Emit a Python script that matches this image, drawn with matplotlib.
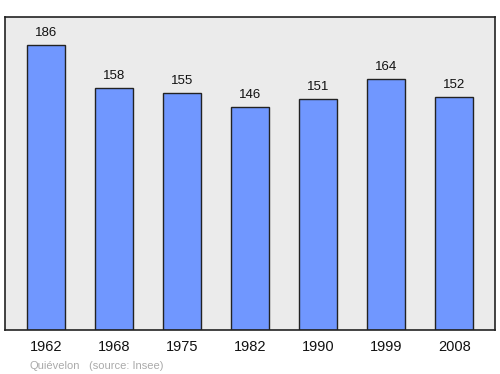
import matplotlib
matplotlib.use("Agg")
import matplotlib.pyplot as plt

years = ["1962", "1968", "1975", "1982", "1990", "1999", "2008"]
population = [186, 158, 155, 146, 151, 164, 152]

plt.rcParams['font.family'] = ['Liberation Sans', 'DejaVu Sans']

fig = plt.figure(figsize=(5, 3.74), dpi=100)
ax = fig.add_axes([0.01, 0.1176, 0.98, 0.837])
ax.set_facecolor('#ebebeb')

x = list(range(len(years)))
bars = ax.bar(x, population, width=0.56, color='#7097ff', edgecolor='#222222', linewidth=1.0)
for xi, v in zip(x, population):
    ax.annotate(str(v), (xi, v), xytext=(0, 6), textcoords='offset pixels',
                ha='center', va='bottom', fontsize=9.5, color='#111111')

ax.set_xlim(-0.6, len(years) - 0.4)
ax.set_ylim(0, 204.5)
ax.set_yticks([])
ax.set_xticks(x)
ax.set_xticklabels(years, fontsize=10.5, color='#111111')
ax.tick_params(axis='x', length=0, pad=7)
for s in ax.spines.values():
    s.set_color('#222222')
    s.set_linewidth(1.2)

fig.text(30 / 500, 1 - 366 / 374, "Quiévelon", fontsize=8, color='#aaaaaa', ha='left', va='center')
fig.text(89 / 500, 1 - 366 / 374, "(source: Insee)", fontsize=8, color='#aaaaaa', ha='left', va='center')

fig.savefig("out.png", dpi=100)
